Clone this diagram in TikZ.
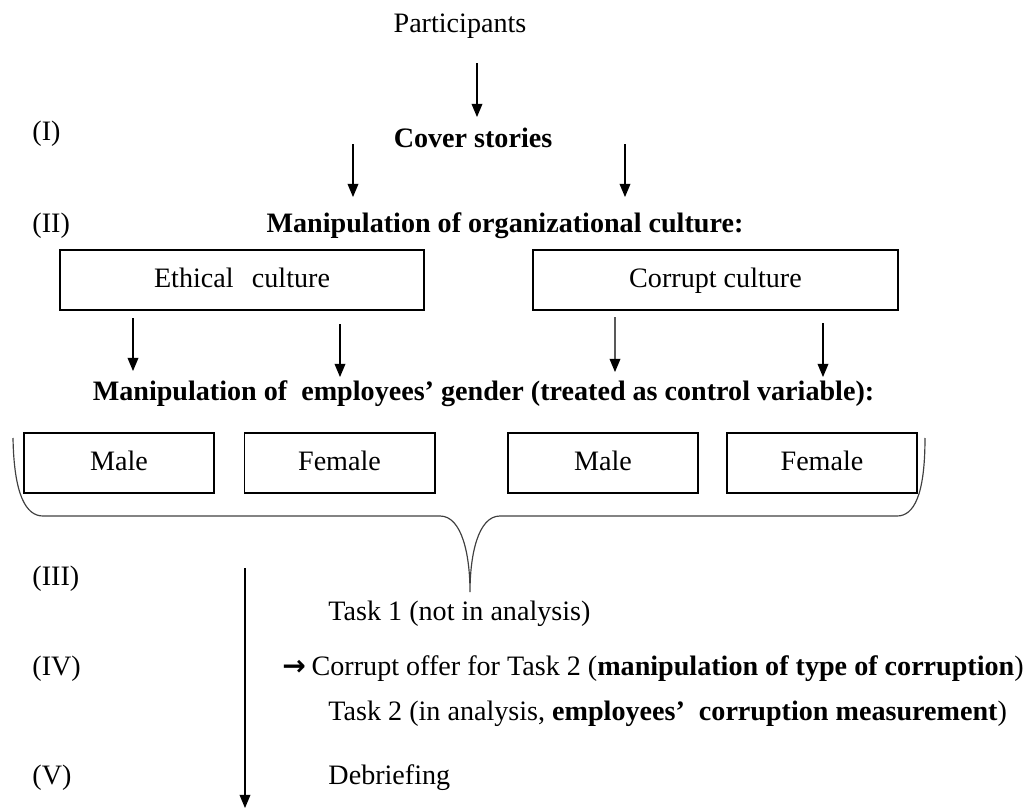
\documentclass[tikz,border=0pt]{standalone}
\usepackage{fontspec}
\setmainfont{Liberation Serif}
\newfontfamily\arrowfont{DejaVu Sans}
\usepackage{tikz}
\usetikzlibrary{calc,arrows.meta}

\tikzset{
  txt/.style={font=\fontsize{12}{14}\selectfont, inner sep=0pt, text height=0.76em, text depth=0.1em},
  head/.style={txt, font=\fontsize{12}{14}\selectfont\bfseries},
  bigbox/.style={txt, draw, line width=0.85pt, minimum width=5.46cm, minimum height=0.9cm},
  smallbox/.style={txt, draw, line width=0.85pt, minimum width=2.85cm, minimum height=0.9cm},
  arr/.style={line width=0.45pt, -{Triangle[width=4.6pt,length=5.6pt]}}
}

\begin{document}
\begin{tikzpicture}[x=0.015cm, y=-0.015cm]
  \useasboundingbox (0,0) rectangle (1036,809);

  % Stage labels
  \node[txt, anchor=west] (st1) at (32,133) {(I)};
  \node[txt, anchor=west] (st2) at (32,225) {(II)};
  \node[txt, anchor=west] (st3) at (32,578) {(III)};
  \node[txt, anchor=west] (st4) at (32,668) {(IV)};
  \node[txt, anchor=west] (st5) at (32,777) {(V)};

  % Participants and cover stories
  \node[txt] (part) at (460,25) {Participants};
  \node[head] (cover) at (473,140) {Cover stories};
  \draw[arr] ($(part.center)+(17,38)$) -- ($(cover.center)+(4,-23)$);

  % Organizational culture
  \node[head] (org) at (505,225) {Manipulation of organizational culture:};
  \draw[arr] ($(cover.center)+(-120,4)$) -- ($(org.center)+(-152,-28)$);
  \draw[arr] ($(cover.center)+(152,4)$) -- ($(org.center)+(120,-28)$);
  \node[bigbox] (eth) at (242,280) {Ethical\hspace{0.65em}culture};
  \node[bigbox] (cor) at (715.5,280) {Corrupt culture};

  % Employees' gender
  \node[head] (gen) at (483.5,393) {Manipulation of\ \ employees' gender (treated as control variable):};
  \draw[arr] ($(eth.center)+(-109,38)$) -- ($(gen.center)+(-350.5,-22)$);
  \draw[arr] ($(eth.center)+(98,44)$) -- ($(gen.center)+(-143.5,-16)$);
  \draw[arr] ($(cor.center)+(-100.5,37)$) -- ($(gen.center)+(131.5,-21)$);
  \draw[arr] ($(cor.center)+(107.5,43)$) -- ($(gen.center)+(339.5,-16)$);
  \node[smallbox] (male1) at (119,463) {Male};
  \node[smallbox] (fem1) at (339.5,463) {Female};
  \node[smallbox] (male2) at (603,463) {Male};
  \node[smallbox] (fem2) at (822,463) {Female};

  % Brace under the four groups
  \draw[line width=0.5pt, black!75] (13,438) .. controls (14,495) and (26,516) .. (43,516)
    -- (440,516) .. controls (462,516) and (470,555) .. (470,592)
    .. controls (470,555) and (478,516) .. (500,516)
    -- (897,516) .. controls (914,516) and (925,495) .. (925,438);

  % Tasks
  \node[txt, anchor=west] (task1) at (328,613) {Task 1 (not in analysis)};
  \node[txt, anchor=west] (offer) at (282,668) {{\arrowfont\bfseries →}\hspace{0.2em}Corrupt offer for Task 2 (\textbf{manipulation\ of\ type\ of\ corruption})};
  \node[txt, anchor=west] (task2) at (328,713) {Task 2 (in analysis, \textbf{employees'\ \ corruption\ measurement})};
  \node[txt, anchor=west] (debrief) at (328,777) {Debriefing};

  % Time line
  \coordinate (tltop) at (245,568);
  \coordinate (tlend) at (245,808);
  \draw[arr] (tltop) -- (tlend);
\end{tikzpicture}
\end{document}
